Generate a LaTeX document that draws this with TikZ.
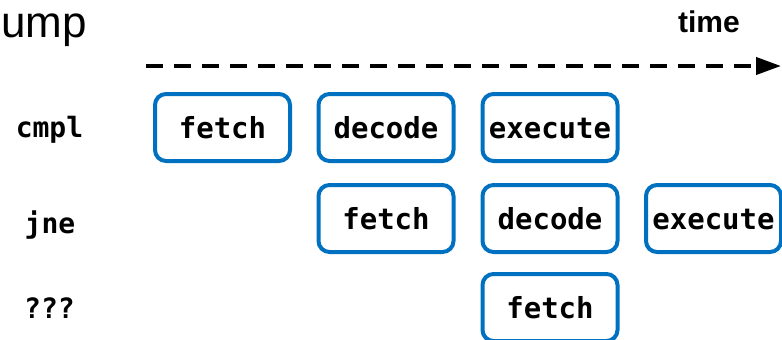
\documentclass[tikz,border=0pt]{standalone}
\usepackage{fontspec}
\setmainfont{Liberation Sans}
\setmonofont{DejaVu Sans Mono}
\usetikzlibrary{arrows.meta}
\definecolor{boxblue}{HTML}{0070C0}
\begin{document}
\begin{tikzpicture}[x=1pt,y=-1pt,
  stage/.style={draw=boxblue, line width=4pt, rounded corners=11pt,
    minimum width=135pt, minimum height=67pt, inner sep=0pt,
    text height=25pt, text depth=3pt,
    font=\fontsize{29}{29}\selectfont\ttfamily\bfseries},
  instr/.style={anchor=base, inner sep=0pt, font=\fontsize{28}{28}\selectfont\ttfamily\bfseries},
  timeline/.style={line width=4pt, dash pattern=on 17pt off 11pt,
    -{Triangle[length=25pt,width=17pt]}}]
\useasboundingbox (0,0) rectangle (782,340);
\begin{scope}
\clip (0,0) rectangle (782,340);
% title fragment and time label
\node[anchor=base west, inner sep=0pt, font=\fontsize{44}{44}\selectfont] (title) at (1,37) {ump};
\node[anchor=base, inner sep=0pt, font=\fontsize{30}{30}\selectfont\bfseries] (timelbl) at (709,32) {time};
% time axis
\coordinate (t0) at (146,66);
\coordinate (t1) at (781,66);
\draw[timeline] (t0) -- (t1);
% instruction labels
\node[instr] (cmpl) at (49.5,137) {cmpl};
\node[instr] (jne) at (50,233) {jne};
\node[instr] (unk) at (49.5,318) {???};
% row 1
\node[stage] (f1) at (222.5,127.5) {fetch};
\node[stage] (d1) at (386,127.5) {decode};
\node[stage] (e1) at (550,127.5) {execute};
% row 2
\node[stage] (f2) at (386,218.5) {fetch};
\node[stage] (d2) at (550,218.5) {decode};
\node[stage] (e2) at (713.5,218.5) {execute};
% row 3
\node[stage] (f3) at (550,307.5) {fetch};
\end{scope}
\end{tikzpicture}
\end{document}
